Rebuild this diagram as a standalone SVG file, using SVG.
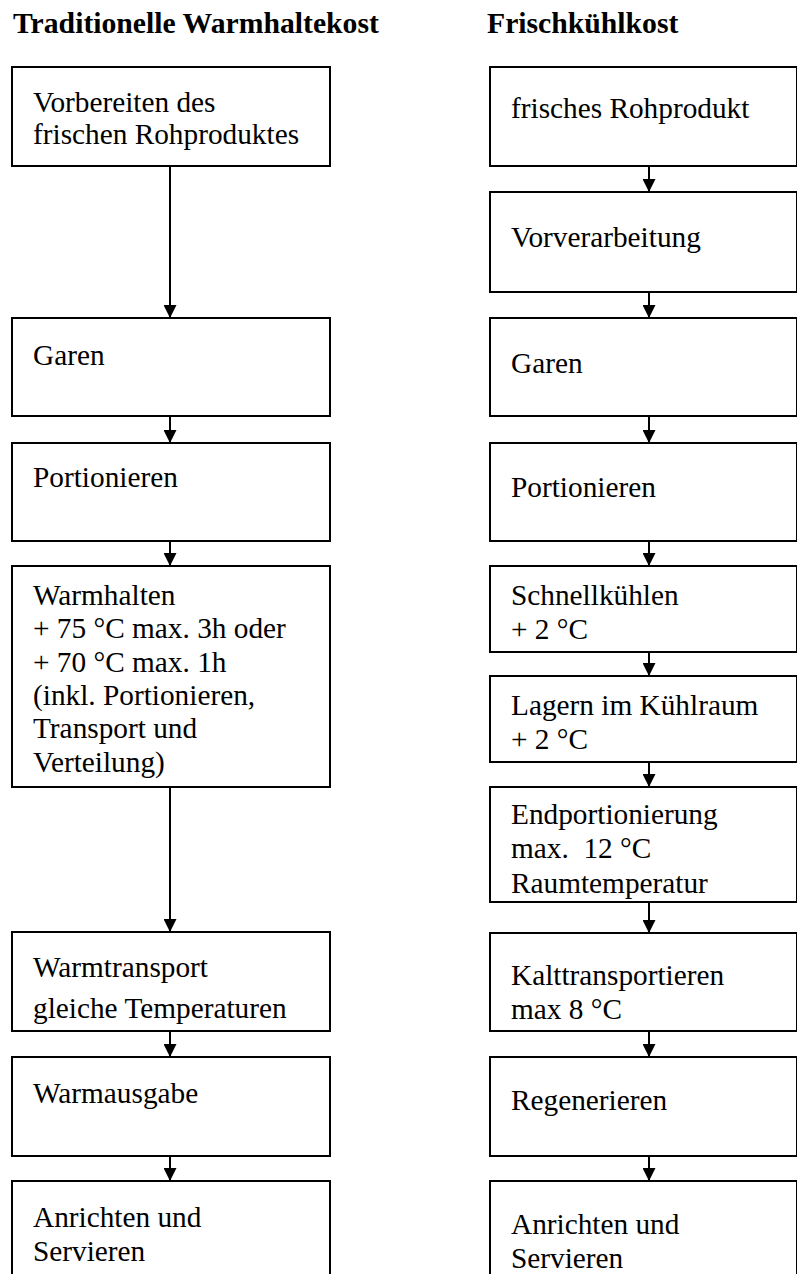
<svg xmlns="http://www.w3.org/2000/svg" width="797" height="1274" viewBox="0 0 797 1274">
  <style>
    .box { fill: #ffffff; stroke: #000000; stroke-width: 2; }
    .lbl { font-family: "Liberation Serif", "Times New Roman", serif; font-size: 29.3px; fill: #000000; }
    .ttl { font-family: "Liberation Serif", "Times New Roman", serif; font-size: 29.7px; font-weight: bold; fill: #000000; }
    .flow { stroke: #000000; stroke-width: 2; fill: none; marker-end: url(#head); }
  </style>
  <defs>
    <marker id="head" viewBox="0 0 13 13" refX="13" refY="6.5" markerWidth="13" markerHeight="13" markerUnits="userSpaceOnUse" orient="auto">
      <path d="M0,0 L13,6.5 L0,13 z" fill="#000000"/>
    </marker>
  </defs>
  <rect width="797" height="1274" fill="#ffffff"/>

  <!-- column headings -->
  <text class="ttl" x="13" y="33">Traditionelle Warmhaltekost</text>
  <text class="ttl" x="487" y="33">Frischkühlkost</text>

  <!-- connectors -->
  <g id="connectors">
    <path class="flow" d="M170,166 V318"/>
    <path class="flow" d="M170,416 V443"/>
    <path class="flow" d="M170,541 V566"/>
    <path class="flow" d="M170,787 V932"/>
    <path class="flow" d="M170,1031 V1057"/>
    <path class="flow" d="M170,1156 V1181"/>

    <path class="flow" d="M649,166 V192"/>
    <path class="flow" d="M649,292 V318"/>
    <path class="flow" d="M649,416 V443"/>
    <path class="flow" d="M649,541 V566"/>
    <path class="flow" d="M649,648 V676"/>
    <path class="flow" d="M649,762 V787"/>
    <path class="flow" d="M649,900 V933"/>
    <path class="flow" d="M649,1031 V1057"/>
    <path class="flow" d="M649,1154 V1181"/>
  </g>

  <!-- left column: traditional hot-holding -->
  <g id="w-vorbereiten">
    <rect class="box" x="12" y="67" width="318" height="99"/>
    <text class="lbl" x="33" y="112">Vorbereiten des</text>
    <text class="lbl" x="33" y="144">frischen Rohproduktes</text>
  </g>
  <g id="w-garen">
    <rect class="box" x="12" y="318" width="318" height="98"/>
    <text class="lbl" x="33" y="365">Garen</text>
  </g>
  <g id="w-portionieren">
    <rect class="box" x="12" y="443" width="318" height="98"/>
    <text class="lbl" x="33" y="487">Portionieren</text>
  </g>
  <g id="w-warmhalten">
    <rect class="box" x="12" y="566" width="318" height="221"/>
    <text class="lbl" x="33" y="605">Warmhalten</text>
    <text class="lbl" x="33" y="638">+ 75 °C max. 3h oder</text>
    <text class="lbl" x="33" y="672">+ 70 °C max. 1h</text>
    <text class="lbl" x="33" y="705">(inkl. Portionieren,</text>
    <text class="lbl" x="33" y="738">Transport und</text>
    <text class="lbl" x="33" y="772">Verteilung)</text>
  </g>
  <g id="w-warmtransport">
    <rect class="box" x="12" y="932" width="318" height="99"/>
    <text class="lbl" x="33" y="977">Warmtransport</text>
    <text class="lbl" x="33" y="1018">gleiche Temperaturen</text>
  </g>
  <g id="w-warmausgabe">
    <rect class="box" x="12" y="1057" width="318" height="99"/>
    <text class="lbl" x="33" y="1103">Warmausgabe</text>
  </g>
  <g id="w-anrichten">
    <rect class="box" x="12" y="1181" width="318" height="120"/>
    <text class="lbl" x="33" y="1227">Anrichten und</text>
    <text class="lbl" x="33" y="1261">Servieren</text>
  </g>

  <!-- right column: cook-chill -->
  <g id="k-rohprodukt">
    <rect class="box" x="490" y="67" width="307" height="99"/>
    <text class="lbl" x="511" y="118">frisches Rohprodukt</text>
  </g>
  <g id="k-vorverarbeitung">
    <rect class="box" x="490" y="192" width="307" height="100"/>
    <text class="lbl" x="511" y="247">Vorverarbeitung</text>
  </g>
  <g id="k-garen">
    <rect class="box" x="490" y="318" width="307" height="98"/>
    <text class="lbl" x="511" y="373">Garen</text>
  </g>
  <g id="k-portionieren">
    <rect class="box" x="490" y="443" width="307" height="98"/>
    <text class="lbl" x="511" y="497">Portionieren</text>
  </g>
  <g id="k-schnellkuehlen">
    <rect class="box" x="490" y="566" width="307" height="86"/>
    <text class="lbl" x="511" y="605">Schnellkühlen</text>
    <text class="lbl" x="511" y="639">+ 2 °C</text>
  </g>
  <g id="k-lagern">
    <rect class="box" x="490" y="676" width="307" height="86"/>
    <text class="lbl" x="511" y="715">Lagern im Kühlraum</text>
    <text class="lbl" x="511" y="749">+ 2 °C</text>
  </g>
  <g id="k-endportionierung">
    <rect class="box" x="490" y="787" width="307" height="115"/>
    <text class="lbl" x="511" y="824">Endportionierung</text>
    <text class="lbl" x="511" y="858" xml:space="preserve">max.  12 °C</text>
    <text class="lbl" x="511" y="893">Raumtemperatur</text>
  </g>
  <g id="k-kalttransport">
    <rect class="box" x="490" y="933" width="307" height="98"/>
    <text class="lbl" x="511" y="985">Kalttransportieren</text>
    <text class="lbl" x="511" y="1019">max 8 °C</text>
  </g>
  <g id="k-regenerieren">
    <rect class="box" x="490" y="1057" width="307" height="99"/>
    <text class="lbl" x="511" y="1110">Regenerieren</text>
  </g>
  <g id="k-anrichten">
    <rect class="box" x="490" y="1181" width="307" height="120"/>
    <text class="lbl" x="511" y="1234">Anrichten und</text>
    <text class="lbl" x="511" y="1268">Servieren</text>
  </g>
</svg>
